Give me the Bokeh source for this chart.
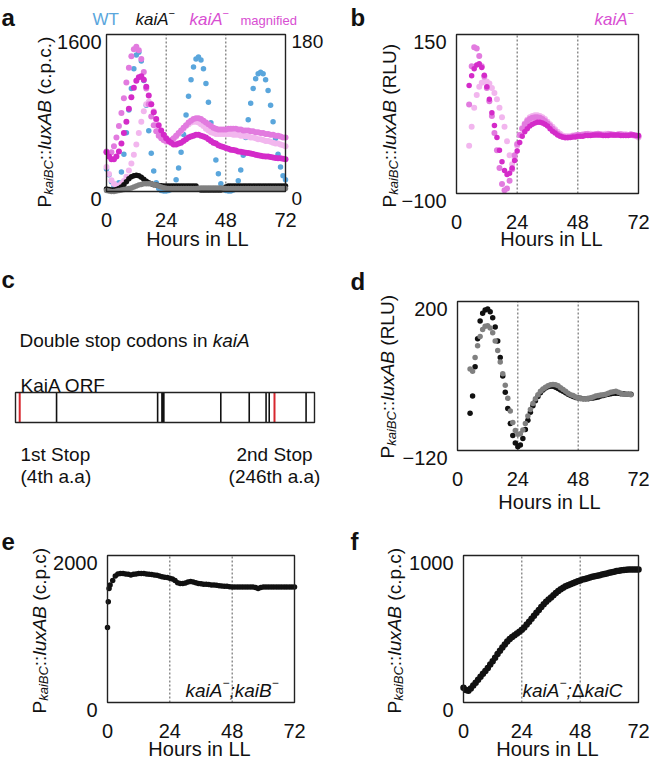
import math
from bokeh.plotting import figure
from bokeh.models import Label, Range1d, BoxAnnotation
from bokeh.layouts import row, column
from bokeh.embed import file_html
from bokeh.resources import INLINE
from bokeh.core.properties import value

FONT = "Liberation Sans"

# ---------------- data ----------------
hours_a = list(range(0, 73))
wt = [230, 170, 100, 50, 40, 90, 200, 380, 600, 830,
      1050, 1250, 1390, 1420, 1330, 1130, 880, 620, 390, 210,
      90, 30, 10, 5, 5, 10, 20, 50, 120, 240,
      400, 580, 780, 970, 1140, 1270, 1350, 1370, 1340, 1250,
      1100, 910, 700, 500, 320, 180, 80, 30, 10, 5,
      5, 15, 45, 110, 220, 370, 550, 730, 900, 1050,
      1150, 1200, 1215, 1200, 1140, 1030, 880, 710, 540, 380,
      250, 160, 120]
kaiA_black = [25, 20, 15, 15, 20, 30, 45, 70, 100, 130,
              150, 160, 165, 160, 145, 125, 105, 90, 80, 70,
              65, 60, 58, 55, 55, 55, 55, 55, 55, 55,
              55, 55, 55, 55, 55, 55, 55, 30, 15, 15,
              15, 15, 15, 15, 15, 15, 15, 20, 45, 55,
              55, 55, 55, 55, 55, 55, 55, 55, 55, 55,
              55, 55, 55, 55, 55, 55, 55, 55, 55, 55,
              55, 55, 55]
kaiA_gray = [10, 5, 0, 0, 5, 10, 15, 20, 25, 30,
             35, 45, 55, 65, 72, 78, 80, 80, 78, 72,
             65, 55, 45, 38, 32, 30, 30, 30, 30, 30,
             30, 30, 30, 30, 30, 30, 30, 32, 35, 35,
             35, 35, 35, 35, 35, 35, 35, 32, 30, 30,
             30, 30, 30, 30, 30, 30, 30, 30, 30, 30,
             30, 30, 30, 30, 30, 30, 30, 30, 30, 30,
             30, 30, 30]
mag_dark = [45, 40, 37, 37, 40, 46, 55, 67, 80, 95,
            108, 119, 127, 131, 132, 128, 120, 110, 100, 91,
            83, 76, 70, 65, 61, 58, 56, 54, 54, 55,
            56, 58, 60, 62, 63, 64, 65, 65, 64, 63,
            62, 60, 58, 56, 55, 53, 52, 51, 50, 49,
            48, 47.5, 47, 46, 45.5, 45, 44.5, 44, 43.5, 43,
            42, 41.5, 41, 40.5, 40, 40, 39.5, 39, 38.5, 38,
            38, 37.5, 37]
mag_mid = [46, 42, 45, 52, 62, 75, 90, 107, 125, 142,
           155, 163, 166, 162, 152, 137, 118, 100, 86, 76,
           69, 64, 61, 59, 58, 58, 59, 61, 64, 67,
           70, 73, 76, 79, 81, 83, 84, 84, 83, 81,
           79, 77, 75, 73, 72, 71, 71, 71, 71, 72,
           72, 72, 72, 71, 71, 70, 70, 70, 69, 69,
           68, 68, 67, 67, 66, 66, 65, 65, 64, 64,
           63, 62, 62]
mag_light = [28, 20, 13, 9, 7, 7, 9, 12, 17, 24,
             32, 42, 54, 67, 80, 92, 100, 103, 100, 92,
             82, 72, 64, 59, 57, 57, 58, 60, 63, 66,
             69, 72, 75, 77, 79, 80, 80, 79, 77, 75,
             72, 70, 68, 67, 66, 66, 66, 66, 66, 66,
             66, 65, 65, 65, 64, 64, 63, 63, 62, 62,
             61, 60, 60, 59, 58, 58, 57, 56, 55, 55,
             54, 53, 52]

hours_b = list(range(5, 73))
b_dark = [70, 85, 96, 102, 104, 98, 86, 68, 48, 27,
          7, -12, -32, -50, -64, -70, -68, -60, -48, -33,
          -20, -10, -3, 2, 6, 9, 11, 12, 12, 11,
          9, 6, 2, -2, -5, -8, -10, -11, -12, -12,
          -12, -11, -11, -10,
          -10, -10, -9, -9, -9, -8, -8, -8, -8, -9, -9, -9,
          -8, -8, -8, -8, -9, -9, -9, -9, -8, -8, -9, -9]
b_mid = [40, 100, 130, 128, 116, 100, 84, 66, 45, 22,
         -5, -32, -60, -85, -95, -92, -80, -62, -40, -22,
         -8, 2, 9, 14, 17, 19, 20, 20, 19, 17,
         14, 10, 6, 2, -2, -6, -9, -11, -12, -12,
         -11, -10, -9, -8,
         -8, -8, -7, -7, -8, -8, -7, -6, -7, -8, -8, -7,
         -7, -8, -8, -7, -7, -8, -8, -8, -7, -8, -9, -10]
b_light = [-25, 5, 35, 55, 68, 74, 76, 76, 73, 66,
           58, 48, 35, 20, 5, -18, -40, -54, -45, -25,
           -8, 3, 10, 16, 20, 22, 23, 23, 22, 20,
           17, 13, 9, 5, 1, -3, -6, -9, -10, -10,
           -10, -9, -9, -8,
           -8, -7, -7, -6, -6, -7, -7, -8, -8, -7, -6, -6,
           -7, -7, -8, -8, -7, -7, -7, -8, -8, -9, -10, -12]

hours_d = list(range(5, 70))
d_black = [-40, -3, 60, 120, 158, 175, 182, 184, 178, 165,
           145, 115, 80, 40, 5, -30, -62, -88, -104, -112,
           -108, -94, -75, -55, -38, -24, -13, -4, 4, 10,
           14, 17, 18, 18, 16, 13, 10, 7, 4, 1,
           -2, -4, -6, -7, -8, -9, -9, -9, -8, -7,
           -6, -5, -3, -2, 0, 1, 2, 3, 3, 3,
           2, 2, 1, 1, 1]
d_gray = [55, 50, 80, 105, 125, 140, 147, 148, 143, 133,
          115, 95, 70, 45, 20, -8, -35, -60, -77, -85,
          -84, -76, -62, -46, -32, -19, -9, 0, 7, 12,
          16, 19, 21, 22, 21, 19, 15, 11, 7, 3,
          0, -2, -5, -7, -9, -9, -9, -8, -7, -5,
          -3, -2, -1, 0, 1, 3, 5, 6, 7, 5,
          3, 1, 1, 1, 0]

hours_e = [0, 0.3, 0.6] + list(range(1, 73))
e_vals = [1020, 1370, 1550,
          1600, 1660, 1720, 1750, 1755, 1755, 1750, 1745, 1735, 1745,
          1750, 1755, 1755, 1755, 1750, 1745, 1740, 1735, 1730, 1720,
          1710, 1705, 1700, 1690, 1680, 1660, 1630, 1620, 1620, 1625,
          1640, 1645, 1640, 1630, 1620, 1615, 1610, 1610, 1605, 1600,
          1600, 1595, 1590, 1585, 1580, 1580, 1575, 1570,
          1570, 1570, 1570, 1570, 1570, 1570, 1570, 1570, 1565, 1550,
          1565, 1570, 1570, 1570, 1570, 1570, 1570, 1570, 1570, 1570,
          1570, 1570, 1570, 1570]

hours_f = list(range(0, 73))
f_vals = [100, 85, 80, 95, 115, 135, 155, 175, 195, 215,
          235, 258, 280, 305, 330, 352, 375, 395, 415, 432,
          445, 458, 470, 482, 495, 510, 530, 550, 570, 590,
          610, 630, 650, 668, 685, 700, 715, 730, 745, 758,
          770, 780, 790, 798, 805, 812, 818, 825, 830, 836,
          840, 845, 850, 855, 858, 862, 866, 870, 874, 878,
          882, 886, 890, 894, 897, 900, 902, 903, 904, 904,
          904, 904, 904]

kaiA_len = 284
black_marks = [39, 135, 195, 222, 238, 241, 276]
thick_marks = [140]
red_marks = [4, 246]

x_ticks = [0, 24, 48, 72]
x_tick_labels = ["0", "24", "48", "72"]
dash_hours = [24, 48]

a_left_ticks, a_left_labels = [0, 1600], ["0", "1600"]
a_right_ticks, a_right_labels = [0, 180], ["0", "180"]
b_ticks, b_labels = [-100, 150], ["−100", "150"]
d_ticks, d_labels = [-120, 200], ["−120", "200"]
e_ticks, e_labels = [0, 2000], ["0", "2000"]
f_ticks, f_labels = [0, 1000], ["0", "1000"]

BLUE = "#5AA6DC"
BLACK = "#111111"
GRAY = "#808080"
MDARK = "#D42BC9"
MMID = "#E27BDF"
MLIGHT = "#F2B6EE"
MTEXT = "#D84ED2"

# ---------------- text helpers ----------------
AW = {' ': 278, '(': 333, ')': 333, '.': 278, ':': 278, ';': 278, '−': 584, 'Δ': 668,
      '0': 556, '1': 556, '2': 556, '3': 556, '4': 556, '5': 556, '6': 556, '7': 556, '8': 556, '9': 556,
      'A': 667, 'B': 667, 'C': 722, 'D': 722, 'F': 611, 'H': 722, 'K': 667, 'L': 556, 'O': 778,
      'P': 667, 'R': 722, 'S': 667, 'T': 611, 'U': 722, 'W': 944,
      'a': 556, 'b': 556, 'c': 500, 'd': 556, 'e': 556, 'f': 278, 'g': 556, 'h': 556, 'i': 222,
      'k': 500, 'l': 222, 'm': 833, 'n': 556, 'o': 556, 'p': 556, 'r': 333, 's': 500, 't': 278,
      'u': 556, 'x': 500}
TICK_PX = 20


def tw(s, size):
    return sum(AW.get(ch, 556) for ch in s) * size / 1000.0


def make_panel(W, H, L, T, fw, fh, xr, yr):
    sx = fw / (xr[1] - xr[0])
    sy = fh / (yr[1] - yr[0])
    p = figure(width=W, height=H, output_backend="svg", toolbar_location=None,
               x_range=Range1d(xr[0] - L / sx, xr[1] + (W - L - fw) / sx),
               y_range=Range1d(yr[0] - (H - T - fh) / sy, yr[1] + T / sy),
               x_axis_location=None, y_axis_location=None,
               min_border_left=0, min_border_right=0, min_border_top=0, min_border_bottom=0)
    p.outline_line_color = None
    p.grid.visible = False
    p.title.visible = False
    p.background_fill_color = "white"
    p.border_fill_color = "white"
    geo = dict(W=W, H=H, L=L, T=T, fw=fw, fh=fh, xr=xr, yr=yr, sx=sx, sy=sy)
    return p, geo


def put(p, geo, X, Y, text, size, style="normal", color=BLACK, align="left", angle=0.0):
    p.add_layout(Label(x=X, y=geo["H"] - Y, x_units="screen", y_units="screen",
                       text=text, text_font=FONT, text_font_size=f"{size}px",
                       text_font_style=style, text_color=color, text_align=align,
                       text_baseline="alphabetic", angle=angle))


def put_run(p, geo, X, Y, pieces, vertical=False):
    off = 0.0
    for (t, size, style, color, dy) in pieces:
        lead = len(t) - len(t.lstrip(" "))
        off += tw(" " * lead, size)
        t = t.lstrip(" ")
        if vertical:
            put(p, geo, X + dy, Y - off, t, size, style, color, angle=math.pi / 2)
        else:
            put(p, geo, X + off, Y + dy, t, size, style, color)
        off += tw(t, size)


def ylabel_pieces(unit):
    return [("P", 19, "normal", BLACK, 0), ("kaiBC", 13, "italic", BLACK, 4),
            ("::", 19, "normal", BLACK, 0), ("luxAB", 19, "italic", BLACK, 0),
            (" " + unit, 19, "normal", BLACK, 0)]


def frame_box(p, geo):
    xr, yr = geo["xr"], geo["yr"]
    p.add_layout(BoxAnnotation(left=xr[0], right=xr[1], bottom=yr[0], top=yr[1],
                               fill_alpha=0, fill_color=None, line_color="#222222",
                               line_width=1.4, line_alpha=1))


def dashes(p, geo):
    yr = geo["yr"]
    p.segment(x0=dash_hours, y0=[yr[0]] * len(dash_hours), x1=dash_hours,
              y1=[yr[1]] * len(dash_hours), line_color="#555555", line_width=1,
              line_dash="2 2")


def tick_text(p, xs, ys, labels, align, px=TICK_PX, **kw):
    p.text(x=xs, y=ys, text=labels, text_font=value(FONT), text_font_size=value(f"{px}px"),
           text_color=BLACK, text_align=align, text_baseline="alphabetic", **kw)


def axes_ticks(p, geo, yticks, ylabels, ygap):
    xr, yr, sx, sy = geo["xr"], geo["yr"], geo["sx"], geo["sy"]
    tick_text(p, x_ticks, [yr[0] - 28 / sy] * len(x_ticks), x_tick_labels, "center")
    half = 0.358 * TICK_PX
    tick_text(p, [xr[0] - ygap / sx] * len(yticks), [v - half / sy for v in yticks],
              ylabels, "right")


def dots(p, xs, ys, color, size, **kw):
    n = min(len(xs), len(ys))
    p.scatter(xs[:n], ys[:n], size=size, fill_color=color, line_color=None, **kw)


# ---------------- panel a ----------------
pa, ga = make_panel(325, 252, 106, 34, 179, 157, (0, 72), (0, 1600))
sy_mag = ga["fh"] / 180.0
pa.extra_y_ranges = {"mag": Range1d(0 - (ga["H"] - ga["T"] - ga["fh"]) / sy_mag,
                                    180 + ga["T"] / sy_mag)}
dashes(pa, ga)
dots(pa, hours_a, wt, BLUE, 5.5)
dots(pa, hours_a, mag_light, MLIGHT, 6, y_range_name="mag")
dots(pa, hours_a, mag_mid, MMID, 6, y_range_name="mag")
dots(pa, hours_a, mag_dark, MDARK, 6, y_range_name="mag")
dots(pa, hours_a, kaiA_black, BLACK, 5.5)
dots(pa, hours_a, kaiA_gray, GRAY, 5.5)
frame_box(pa, ga)
axes_ticks(pa, ga, a_left_ticks, a_left_labels, 5)
tick_text(pa, [72 + 6 / ga["sx"]] * 2, [v - 0.358 * 19 / sy_mag for v in a_right_ticks],
          a_right_labels, "left", px=19, y_range_name="mag")
put(pa, ga, 1, 17, "a", 24, "bold")
put(pa, ga, 92, 19, "WT", 17, "normal", BLUE)
put_run(pa, ga, 135, 19, [("kaiA", 17, "italic", BLACK, 0), ("−", 11, "normal", BLACK, -7)])
put_run(pa, ga, 189, 19, [("kaiA", 17, "italic", MTEXT, 0), ("−", 11, "normal", MTEXT, -7)])
put(pa, ga, 240, 20, "magnified", 13, "normal", MTEXT)
put_run(pa, ga, 44, 207, ylabel_pieces("(c.p.c.)"), vertical=True)
put(pa, ga, 197, 238, "Hours in LL", 20, align="center")

# ---------------- panel b ----------------
pb, gb = make_panel(324, 252, 131, 34, 182, 159, (0, 72), (-100, 150))
dashes(pb, gb)
dots(pb, hours_b, b_light, MLIGHT, 6)
dots(pb, hours_b, b_mid, MMID, 6)
dots(pb, hours_b, b_dark, MDARK, 5.5)
frame_box(pb, gb)
axes_ticks(pb, gb, b_ticks, b_labels, 10)
put(pb, gb, 25, 17, "b", 24, "bold")
put_run(pb, gb, 269, 19, [("kaiA", 17, "italic", MTEXT, 0), ("−", 11, "normal", MTEXT, -7)])
put_run(pb, gb, 64, 207, ylabel_pieces("(RLU)"), vertical=True)
put(pb, gb, 226, 238, "Hours in LL", 20, align="center")

# ---------------- panel c ----------------
pc, gc = make_panel(325, 264, 15, 140, 299, 30, (0, kaiA_len), (0, 1))
n_b, n_t, n_r = len(black_marks), len(thick_marks), len(red_marks)
pc.segment(x0=black_marks, y0=[0] * n_b, x1=black_marks, y1=[1] * n_b,
           line_color=BLACK, line_width=1.6)
pc.segment(x0=thick_marks, y0=[0] * n_t, x1=thick_marks, y1=[1] * n_t,
           line_color=BLACK, line_width=3.5)
pc.segment(x0=red_marks, y0=[0] * n_r, x1=red_marks, y1=[1] * n_r,
           line_color="#D7262E", line_width=2)
frame_box(pc, gc)
put(pc, gc, 1, 27, "c", 24, "bold")
put_run(pc, gc, 19, 88, [("Double stop codons in ", 19, "normal", BLACK, 0),
                         ("kaiA", 19, "italic", BLACK, 0)])
put(pc, gc, 20, 133, "KaiA ORF", 19)
put(pc, gc, 20, 202, "1st Stop", 19)
put(pc, gc, 20, 224, "(4th a.a)", 19)
put(pc, gc, 274, 202, "2nd Stop", 19, align="center")
put(pc, gc, 274, 224, "(246th a.a)", 19, align="center")

# ---------------- panel d ----------------
pd_, gd = make_panel(324, 264, 132, 49, 181, 149, (0, 72), (-120, 200))
dashes(pd_, gd)
dots(pd_, hours_d, d_black, BLACK, 5.5)
dots(pd_, hours_d, d_gray, GRAY, 5.5)
frame_box(pd_, gd)
axes_ticks(pd_, gd, d_ticks, d_labels, 10)
put(pd_, gd, 25, 29, "d", 24, "bold")
put_run(pd_, gd, 62, 206, ylabel_pieces("(RLU)"), vertical=True)
put(pd_, gd, 224, 249, "Hours in LL", 20, align="center")

# ---------------- panel e ----------------
pe, ge = make_panel(325, 246, 107, 39, 187, 147, (0, 72), (0, 2000))
dashes(pe, ge)
dots(pe, hours_e, e_vals, BLACK, 5.5)
frame_box(pe, ge)
axes_ticks(pe, ge, e_ticks, e_labels, 10)
put(pe, ge, 1, 25, "e", 24, "bold")
put_run(pe, ge, 39, 197, ylabel_pieces("(c.p.c)"), vertical=True)
put_run(pe, ge, 185, 174, [("kaiA", 19, "italic", BLACK, 0), ("−", 12, "normal", BLACK, -8),
                           (";", 19, "italic", BLACK, 0), ("kaiB", 19, "italic", BLACK, 0),
                           ("−", 12, "normal", BLACK, -8)])
put(pe, ge, 199, 232, "Hours in LL", 20, align="center")

# ---------------- panel f ----------------
pf, gf = make_panel(324, 246, 138, 39, 175, 147, (0, 72), (0, 1000))
dashes(pf, gf)
dots(pf, hours_f, f_vals, BLACK, 6.5)
frame_box(pf, gf)
axes_ticks(pf, gf, f_ticks, f_labels, 10)
put(pf, gf, 25, 25, "f", 24, "bold")
put_run(pf, gf, 69, 197, ylabel_pieces("(c.p.c)"), vertical=True)
put_run(pf, gf, 197, 174, [("kaiA", 19, "italic", BLACK, 0), ("−", 12, "normal", BLACK, -8),
                           (";", 19, "italic", BLACK, 0), ("Δ", 19, "normal", BLACK, 0),
                           ("kaiC", 19, "italic", BLACK, 0)])
put(pf, gf, 222, 232, "Hours in LL", 20, align="center")

layout = column(row(pa, pb), row(pc, pd_), row(pe, pf))
open("out.html", "w").write(file_html(layout, INLINE))
